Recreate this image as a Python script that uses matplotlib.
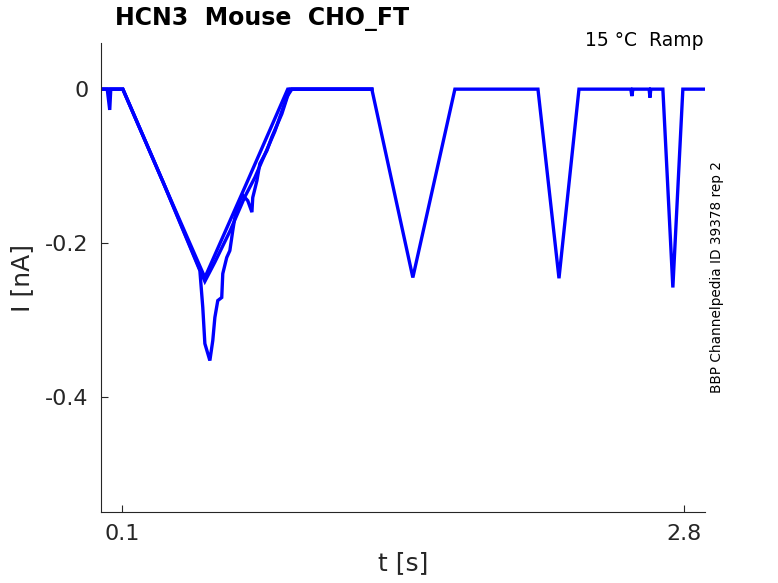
import matplotlib.pyplot as plt

# sweep key points (t in s, I in nA)
t_a = [0, 0.03, 0.042, 0.047, 0.06, 0.105, 0.30, 0.499, 0.70, 0.897, 1.301, 1.498,
       1.70, 2.099, 2.20, 2.296, 2.545, 2.55, 2.555, 2.633, 2.637, 2.641, 2.699,
       2.747, 2.795, 2.9]
i_a = [0, 0, -0.027, 0, 0, 0, -0.122, -0.245, -0.122, 0, 0, -0.245,
       0, 0, -0.246, 0, 0, -0.009, 0, 0, -0.011, 0, 0,
       -0.258, 0, 0]

t_b = [0, 0.105, 0.30, 0.475, 0.489, 0.499, 0.523, 0.537, 0.547, 0.561, 0.580,
       0.585, 0.604, 0.619, 0.633, 0.643, 0.667, 0.681, 0.705, 0.725, 0.729,
       0.749, 0.763, 0.797, 0.821, 0.869, 0.907, 1.301]
i_b = [0, 0, -0.122, -0.236, -0.284, -0.331, -0.353, -0.327, -0.297, -0.275, -0.271,
       -0.240, -0.219, -0.210, -0.184, -0.167, -0.145, -0.138, -0.145, -0.160, -0.141,
       -0.119, -0.097, -0.080, -0.062, -0.032, 0, 0]

t_c = [0, 0.105, 0.30, 0.499, 0.547, 0.619, 0.691, 0.739, 0.787, 0.835, 0.893,
       0.917, 1.301]
i_c = [0, 0, -0.122, -0.25, -0.225, -0.185, -0.14, -0.115, -0.085, -0.055, -0.01,
       0, 0]

xticks = [0.1, 2.8]
yticks = [0, -0.2, -0.4]
ytick_labels = ['0', '-0.2', '-0.4']

fig = plt.figure(figsize=(7.78, 5.83), dpi=100)
ax = fig.add_axes([0.1298, 0.1218, 0.776, 0.8044])

for t, i in [(t_c, i_c), (t_b, i_b), (t_a, i_a)]:
    ax.plot(t, i, color='#0000ff', lw=2.4, solid_joinstyle='miter')

ax.set_xlim(0, 2.9)
ax.set_ylim(-0.55, 0.06)
ax.set_xticks(xticks)
ax.set_xticklabels(['0.1', '2.8'])
ax.set_yticks(yticks)
ax.set_yticklabels(ytick_labels)
ax.tick_params(direction='in', length=5, labelsize=16, colors='#262626', pad=9)
for s in ['top', 'right']:
    ax.spines[s].set_visible(False)
for s in ['left', 'bottom']:
    ax.spines[s].set_color('#262626')
    ax.spines[s].set_linewidth(0.8)

ax.set_xlabel('t [s]', fontsize=18, color='#262626', labelpad=5)
ax.set_ylabel('I [nA]', fontsize=18, color='#262626', labelpad=8)

fig.text(0.148, 0.968, 'HCN3  Mouse  CHO_FT', fontsize=17, fontweight='bold',
         va='center', ha='left')
fig.text(0.904, 0.930, '15 °C  Ramp', fontsize=13.5, va='center', ha='right')
fig.text(0.921, 0.525, 'BBP Channelpedia ID 39378 rep 2', fontsize=9.8,
         rotation=90, va='center', ha='center')

fig.savefig('out.png', dpi=100)
